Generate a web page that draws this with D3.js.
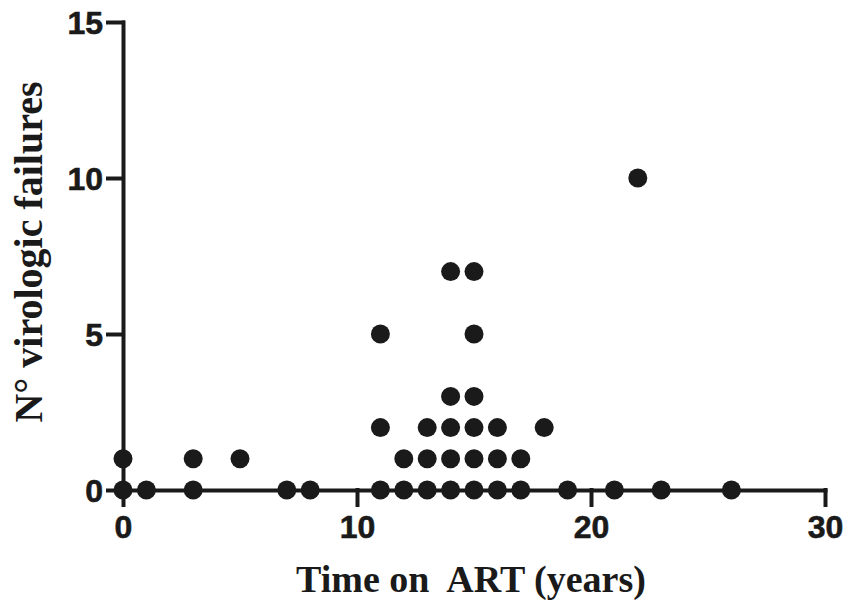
<!DOCTYPE html>
<html>
<head>
<meta charset="utf-8">
<script src="https://cdn.jsdelivr.net/npm/d3@7"></script>
<style>
  body { margin: 0; background: #fff; }
  .tick text { font-family: "Liberation Sans", Arial, sans-serif; font-weight: bold; }
  .title { font-family: "Liberation Serif", "Times New Roman", serif; font-weight: bold; fill: #1a1a1a; white-space: pre; }
</style>
</head>
<body>
<svg id="chart" width="843" height="600"></svg>
<script>
// Data: time on ART (years) and number of virologic failures
const years = [
  0, 1, 3, 7, 8, 11, 12, 13, 14, 15, 16, 17, 19, 21, 23, 26,
  0, 3, 5, 12, 13, 14, 15, 16, 17,
  11, 13, 14, 15, 16, 18,
  14, 15,
  11, 15,
  14, 15,
  22
];
const failures = [
  0, 0, 0, 0, 0, 0, 0, 0, 0, 0, 0, 0, 0, 0, 0, 0,
  1, 1, 1, 1, 1, 1, 1, 1, 1,
  2, 2, 2, 2, 2, 2,
  3, 3,
  5, 5,
  7, 7,
  10
];
const xTicks = [0, 10, 20, 30];
const yTicks = [0, 5, 10, 15];

const svg = d3.select("#chart");
const ink = "#1a1a1a";

// Plot area in pixels
const plotLeft = 123, plotRight = 825, plotTop = 22, plotBottom = 490;

const x = d3.scaleLinear().domain([0, 30]).range([plotLeft, plotRight]);
const y = d3.scaleLinear().domain([0, 15]).range([plotBottom, plotTop]);

// Axes
const xAxis = svg.append("g")
    .attr("transform", `translate(0,${plotBottom})`)
    .call(d3.axisBottom(x).tickValues(xTicks).tickSize(15).tickSizeOuter(0).tickPadding(10));

const yAxis = svg.append("g")
    .attr("transform", `translate(${plotLeft},0)`)
    .call(d3.axisLeft(y).tickValues(yTicks).tickSize(15).tickSizeOuter(0).tickPadding(5));

[xAxis, yAxis].forEach(g => {
    g.selectAll("path, line")
        .attr("stroke", ink)
        .attr("stroke-width", 4)
        .attr("stroke-linecap", "square");
    g.selectAll("text")
        .attr("fill", ink)
        .attr("stroke", ink)
        .attr("stroke-width", 0.6)
        .style("font-size", "32px");
});
xAxis.selectAll("text").attr("dy", "0.72em");
yAxis.selectAll("text").attr("dy", "0.35em");

// Dots
svg.append("g")
    .selectAll("circle")
    .data(years.map((t, i) => ({ t, n: failures[i] })))
    .join("circle")
    .attr("cx", d => x(d.t))
    .attr("cy", d => y(d.n))
    .attr("r", 9.5)
    .attr("fill", ink);

// Axis titles
svg.append("text")
    .attr("class", "title")
    .attr("x", (plotLeft + plotRight) / 2 - 3)
    .attr("y", 592)
    .attr("text-anchor", "middle")
    .style("font-size", "38px")
    .text("Time on  ART (years)");

svg.append("text")
    .attr("class", "title")
    .attr("transform", `translate(42,${(plotTop + plotBottom) / 2 - 4}) rotate(-90)`)
    .attr("text-anchor", "middle")
    .style("font-size", "40px")
    .text("N° virologic failures");
</script>
</body>
</html>
